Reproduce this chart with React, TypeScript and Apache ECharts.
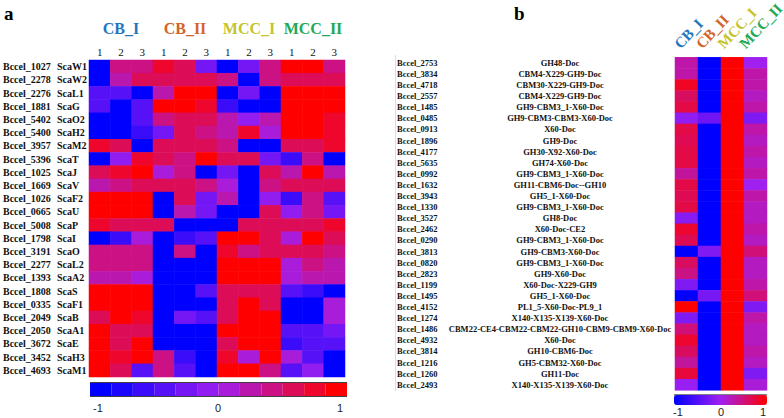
import React, { useEffect, useRef } from 'react';
import * as echarts from 'echarts';

const colsA = ['1', '2', '3', '1', '2', '3', '1', '2', '3', '1', '2', '3'];
const groups = ['CB_I', 'CB_II', 'MCC_I', 'MCC_II'];
const groupColors = ['#1F78BE', '#D2642A', '#C4C42E', '#22A955'];

const genesA = ['Bccel_1027', 'Bccel_2278', 'Bccel_2276', 'Bccel_1881', 'Bccel_5402', 'Bccel_5400', 'Bccel_3957', 'Bccel_5396', 'Bccel_1025', 'Bccel_1669', 'Bccel_1026', 'Bccel_0665', 'Bccel_5008', 'Bccel_1798', 'Bccel_3191', 'Bccel_2277', 'Bccel_1393', 'Bccel_1808', 'Bccel_0335', 'Bccel_2049', 'Bccel_2050', 'Bccel_3672', 'Bccel_3452', 'Bccel_4693'];
const namesA = ['ScaW1', 'ScaW2', 'ScaL1', 'ScaG', 'ScaO2', 'ScaH2', 'ScaM2', 'ScaT', 'ScaJ', 'ScaV', 'ScaF2', 'ScaU', 'ScaP', 'ScaI', 'ScaO', 'ScaL2', 'ScaA2', 'ScaS', 'ScaF1', 'ScaB', 'ScaA1', 'ScaE', 'ScaH3', 'ScaM1'];
const valuesA = [
  [-1, 0.5, 0.5, 0.7, 0.6, -0.2, -1, -0.3, 0.4, 1, 1, 0.35],
  [-1, 0.3, 0.55, 0.6, 0.6, 0.6, 0.35, -1, 0.5, 0.6, 0.6, 0.55],
  [-0.4, -0.4, -1, 0.2, 1, 1, -1, -0.3, -1, 1, 1, 1],
  [-0.35, -1, -0.35, 1, 1, 0.75, -0.5, -1, -1, 1, 1, 1],
  [-1, -1, -0.4, 0.35, 0.6, 0.55, 0.3, -0.1, 0.2, 1, 1, 0.8],
  [-1, -1, -0.55, -0.25, 0.55, 0.45, 0.3, 0.8, 0.05, 1, 1, 0.8],
  [0.8, 0.6, -1, 0.6, 0.55, 0.55, 0.5, -1, -1, 0.6, 0.55, 0.75],
  [-1, -0.1, 0.75, 0.6, 0.45, 1, 0.55, 0.55, -0.25, -0.5, 0.4, -1],
  [0.55, 0.8, 1, 0.05, 0.4, -1, -0.2, -1, 0.6, 0.25, 1, 0.3],
  [0.25, 0.35, 0.55, 0.6, 0.65, 0.4, 0.1, -1, 0.5, 0.55, 0.6, 0.55],
  [1, 1, 1, -1, 0.55, -0.3, 0.2, -1, -0.05, -0.5, 0.4, -0.45],
  [1, 1, 1, -1, 0.3, -0.2, -1, -1, 0.55, -0.1, 0.5, -0.25],
  [0.7, 0.6, 0.6, 0.6, -1, -1, -1, 0.6, 0.55, 0.55, 0.55, 0.75],
  [-1, -0.55, 0.15, -1, -0.6, -0.4, 1, 1, 0.55, 0.1, 1, 0.55],
  [0.4, 0.45, 0.45, -1, 0.35, -1, 0.75, 0.4, 0.55, 0.6, 0.55, 0.5],
  [0.35, 0.35, 0.35, -1, -1, -1, 1, 1, 1, 0.05, 0.35, 0.3],
  [0.25, 0.2, 0.15, -1, -1, -1, 1, 1, 1, 0.05, 0.3, 0.2],
  [1, 1, 1, -1, -1, -0.4, 0.65, 0.65, 0.6, -0.35, -0.5, -1],
  [1, 1, 1, -1, -1, -1, 0.6, 1, 0.65, -1, -1, 0.05],
  [0.65, 1, 0.75, -1, -0.3, -0.45, 0.6, 1, 1, -1, -1, 0.05],
  [1, 0.65, 0.65, -1, -1, -1, 1, 1, 1, -0.35, -0.45, -0.3],
  [1, 0.55, 1, -1, -1, -1, 0.65, 1, 1, -0.5, -0.45, -0.35],
  [1, 0.75, 1, 0.35, -0.5, -1, 0.8, 0.15, 1, 0.1, -0.4, -1],
  [1, 0.6, -0.35, 0.4, -0.45, -1, 1, 1, 0.5, -0.4, -0.15, -1],
];

const genesB = ['Bccel_2753', 'Bccel_3834', 'Bccel_4718', 'Bccel_2557', 'Bccel_1485', 'Bccel_0485', 'Bccel_0913', 'Bccel_1896', 'Bccel_4177', 'Bccel_5635', 'Bccel_0992', 'Bccel_1632', 'Bccel_3943', 'Bccel_1330', 'Bccel_3527', 'Bccel_2462', 'Bccel_0290', 'Bccel_3813', 'Bccel_0820', 'Bccel_2823', 'Bccel_1199', 'Bccel_1495', 'Bccel_4152', 'Bccel_1274', 'Bccel_1486', 'Bccel_4932', 'Bccel_3814', 'Bccel_1216', 'Bccel_1260', 'Bccel_2493'];
const domainsB = ['GH48-Doc', 'CBM4-X229-GH9-Doc', 'CBM30-X229-GH9-Doc', 'CBM4-X229-GH9-Doc', 'GH9-CBM3_1-X60-Doc', 'GH9-CBM3-CBM3-X60-Doc', 'X60-Doc', 'GH9-Doc', 'GH30-X92-X60-Doc', 'GH74-X60-Doc', 'GH9-CBM3_1-X60-Doc', 'GH11-CBM6-Doc--GH10', 'GH5_1-X60-Doc', 'GH9-CBM3_1-X60-Doc', 'GH8-Doc', 'X60-Doc-CE2', 'GH9-CBM3_1-X60-Doc', 'GH9-CBM3-X60-Doc', 'GH9-CBM3_1-X60-Doc', 'GH9-X60-Doc', 'X60-Doc-X229-GH9', 'GH5_1-X60-Doc', 'PL1_5-X60-Doc-PL9_1', 'X140-X135-X139-X60-Doc', 'CBM22-CE4-CBM22-CBM22-GH10-CBM9-CBM9-X60-Doc', 'X60-Doc', 'GH10-CBM6-Doc', 'GH5-CBM32-X60-Doc', 'GH11-Doc', 'X140-X135-X139-X60-Doc'];
// columns: CB_I, CB_II, MCC_I, MCC_II
const valuesB = [
  [0.3, -1, 1, 0.0],
  [0.3, -1, 1, 0.3],
  [0.85, -1, 1, 0.3],
  [0.6, -1, 1, 0.2],
  [0.7, -1, 1, 0.3],
  [-0.1, -0.3, 1, -0.2],
  [0.7, -1, 1, 0.3],
  [0.65, -1, 1, 0.2],
  [0.7, -1, 1, 0.3],
  [0.7, -1, 1, 0.2],
  [0.35, -1, 1, 0.3],
  [0.7, -1, 1, 0.0],
  [0.65, -1, 1, 0.3],
  [0.7, -1, 1, 0.2],
  [-0.15, -1, 1, 0.2],
  [0.8, -1, 1, 0.3],
  [0.65, -1, 1, 0.2],
  [-1, -0.2, 1, 0.5],
  [0.6, -1, 1, 0.2],
  [0.45, -1, 1, 0.2],
  [-0.2, -1, 1, 0.3],
  [-1, -0.25, 1, 0.5],
  [1, -1, 1, -0.2],
  [-0.2, -1, 1, 0.3],
  [0.5, -1, 1, 0.2],
  [0.8, -1, 1, 0.2],
  [0.6, -1, 1, 0.3],
  [0.35, -1, 1, 0.2],
  [0.75, -1, 1, -0.2],
  [-0.05, -1, 1, 0.1],
];

const rampColors = ['#0000FF', '#A020F0', '#FF0000'];
const SERIF = 'Liberation Serif';
const SANS = 'Liberation Sans';

function App() {
  const ref = useRef<HTMLDivElement>(null);
  useEffect(() => {
    if (!ref.current) return;
    const chart = echarts.init(ref.current, undefined, { renderer: 'svg' });
    const dataA: number[][] = [];
    valuesA.forEach((row, i) => row.forEach((v, j) => dataA.push([j, i, v])));
    const dataB: number[][] = [];
    valuesB.forEach((row, i) => row.forEach((v, j) => dataB.push([j, i, v])));

    const gridB = { left: 675, top: 57.3, width: 92, height: 333 };
    const colWB = gridB.width / groups.length;

    const hidden = { axisLine: { show: false }, axisTick: { show: false }, splitLine: { show: false } };
    const keyLabel = (text: string, x: number, y: number) => ({
      type: 'text', x, y,
      style: { text, font: `11px ${SANS}`, fill: '#222', textAlign: 'center', textVerticalAlign: 'middle' },
    });
    const rotatedGroupLabels = groups.map((g, i) => ({
      type: 'text',
      x: gridB.left + (i + 0.5) * colWB - 4 - 1.3 * i,
      y: gridB.top - 6,
      rotation: (47 * Math.PI) / 180,
      style: {
        text: g, font: `bold 15px ${SERIF}`, fill: groupColors[i],
        textAlign: 'left', textVerticalAlign: 'bottom',
      },
    }));

    chart.setOption({
      animation: false,
      backgroundColor: '#fff',
      grid: [
        { left: 89, top: 60, width: 256, height: 317 },
        gridB,
      ],
      xAxis: [
        {
          type: 'category', gridIndex: 0, position: 'top', data: colsA, ...hidden,
          axisLabel: { interval: 0, margin: 3, fontFamily: SERIF, fontSize: 11, color: '#111' },
        },
        {
          type: 'category', gridIndex: 0, position: 'top', ...hidden,
          data: groups.map((g, i) => ({ value: g, textStyle: { color: groupColors[i] } })),
          axisLabel: { interval: 0, margin: 24, fontFamily: SERIF, fontWeight: 'bold', fontSize: 16 },
        },
        {
          type: 'category', gridIndex: 1, position: 'top', data: groups, ...hidden,
          axisLabel: { show: false },
        },
      ],
      yAxis: [
        {
          type: 'category', gridIndex: 0, position: 'left', inverse: true, data: genesA, ...hidden,
          axisLabel: { interval: 0, align: 'left', margin: 86, fontFamily: SERIF, fontWeight: 'bold', fontSize: 10, color: '#111' },
        },
        {
          type: 'category', gridIndex: 0, position: 'left', inverse: true, data: namesA, ...hidden,
          axisLabel: { interval: 0, align: 'left', margin: 32, fontFamily: SERIF, fontWeight: 'bold', fontSize: 10, color: '#111' },
        },
        {
          type: 'category', gridIndex: 1, position: 'left', inverse: true, data: genesB, ...hidden,
          axisLabel: { interval: 0, align: 'left', margin: 278, fontFamily: SERIF, fontWeight: 'bold', fontSize: 8.5, color: '#111' },
        },
        {
          type: 'category', gridIndex: 1, position: 'left', inverse: true, data: domainsB, ...hidden,
          axisLabel: { interval: 0, align: 'center', margin: 115, fontFamily: SERIF, fontWeight: 'bold', fontSize: 8.5, color: '#111' },
        },
      ],
      visualMap: [
        {
          type: 'piecewise', seriesIndex: 0, min: -1, max: 1, splitNumber: 12, precision: 4,
          orient: 'horizontal', left: 90, top: 383, itemWidth: 257 / 12, itemHeight: 13, itemGap: 0,
          showLabel: false, itemSymbol: 'rect', padding: 0, selectedMode: false, hoverLink: false,
          inRange: { color: rampColors },
        },
        {
          type: 'continuous', seriesIndex: 1, min: -1, max: 1, calculable: false,
          orient: 'horizontal', left: 674, top: 395, itemWidth: 10, itemHeight: 93, padding: 0,
          hoverLink: false, inRange: { color: rampColors },
        },
      ],
      series: [
        { type: 'heatmap', xAxisIndex: 0, yAxisIndex: 0, data: dataA, emphasis: { disabled: true } },
        { type: 'heatmap', xAxisIndex: 2, yAxisIndex: 2, data: dataB, emphasis: { disabled: true } },
      ],
      graphic: [
        { type: 'text', left: 4, top: 4, style: { text: 'a', font: `bold 19px ${SERIF}`, fill: '#000' } },
        { type: 'text', left: 514, top: 4, style: { text: 'b', font: `bold 19px ${SERIF}`, fill: '#000' } },
        ...rotatedGroupLabels,
        { type: 'line', shape: { x1: 395.5, y1: 55, x2: 395.5, y2: 391 }, style: { stroke: '#dddddd', lineWidth: 1 } },
        { type: 'line', shape: { x1: 90, y1: 383, x2: 347, y2: 383 }, style: { stroke: '#000', lineWidth: 1.5 } },
        { type: 'line', shape: { x1: 90, y1: 396, x2: 347, y2: 396 }, style: { stroke: '#000', lineWidth: 1.5 } },
        { type: 'line', shape: { x1: 674, y1: 395, x2: 767, y2: 395 }, style: { stroke: '#000', lineWidth: 1.2 } },
        keyLabel('-1', 98, 408),
        keyLabel('0', 218, 408),
        keyLabel('1', 340, 408),
        keyLabel('-1', 678, 412),
        keyLabel('0', 721, 412),
        keyLabel('1', 763, 412),
      ],
    });
    return () => chart.dispose();
  }, []);
  return <div ref={ref} style={{ width: 784, height: 418, position: 'absolute', left: 0, top: 0 }} />;
}

export default App;
